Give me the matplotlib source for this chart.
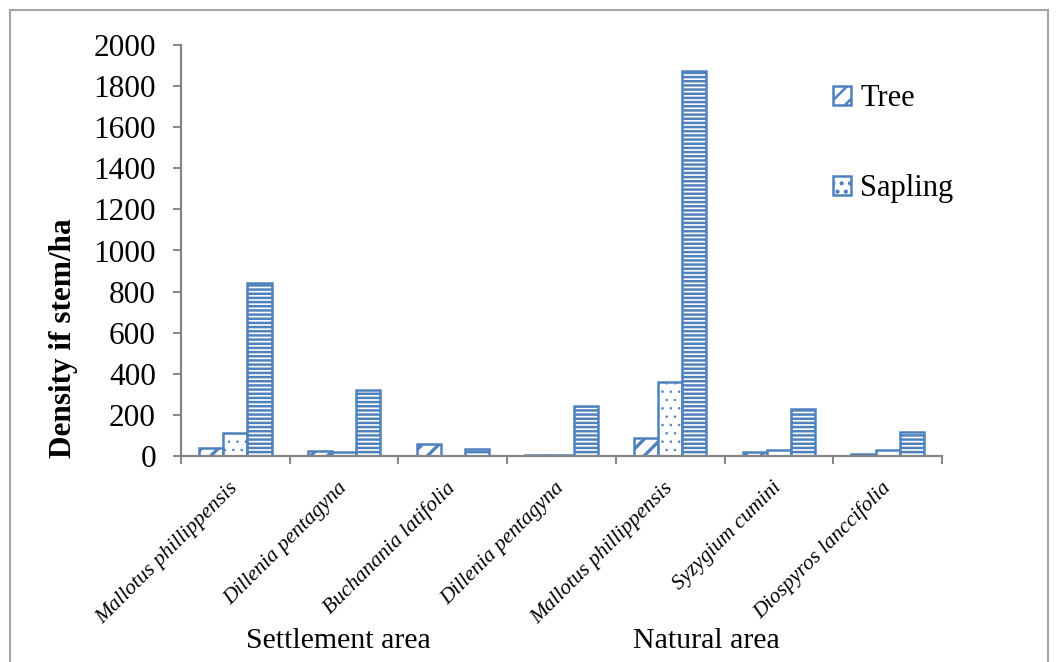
import matplotlib.pyplot as plt
from matplotlib.patches import Rectangle
import numpy as np

# data
species = [
    "Mallotus phillippensis",
    "Dillenia pentagyna",
    "Buchanania latifolia",
    "Dillenia pentagyna",
    "Mallotus phillippensis",
    "Syzygium cumini",
    "Diospyros lanccifolia",
]
tree = [40, 25, 60, 3, 90, 20, 10]
sapling = [110, 20, 0, 7, 360, 30, 30]
seedling = [840, 320, 35, 245, 1875, 230, 115]
areas = ["Settlement area", "Natural area"]

plt.rcParams["font.family"] = ["Liberation Serif", "DejaVu Serif"]

blue = "#4f81bd"
grey = "#868686"

W, H = 1058, 662
fig = plt.figure(figsize=(W / 100, H / 100), dpi=100)
ax = fig.add_axes([181 / W, 1 - 456 / H, (942 - 181) / W, (456 - 45) / H])

x = np.arange(len(species))
bw = 0.222

# hatch line width is picked up when each bar is made
plt.rcParams["hatch.linewidth"] = 2.4
b_tree = ax.bar(x - bw, tree, bw, facecolor="white", edgecolor=blue,
                hatch="//", linewidth=1.8, label="Tree")
plt.rcParams["hatch.linewidth"] = 0.6
b_sap = ax.bar(x, sapling, bw, facecolor="white", edgecolor=blue,
               hatch="..", linewidth=1.8, label="Sapling")
plt.rcParams["hatch.linewidth"] = 1.8
b_seed = ax.bar(x + bw, seedling, bw, facecolor="white", edgecolor=blue,
                hatch="----", linewidth=1.8, label="Seedling")

ax.set_xlim(-0.5, len(species) - 0.5)
ax.set_ylim(0, 2000)
ax.set_yticks(range(0, 2001, 200))
ax.tick_params(axis="y", labelsize=22.5, length=6, width=1.4, color=grey, pad=12)

ax.set_xticks(x)
ax.set_xticklabels(species, rotation=45, ha="right", va="center",
                   rotation_mode="anchor", fontstyle="italic", fontsize=15.5)
ax.tick_params(axis="x", which="major", length=0, pad=21)
ax.set_xticks(np.arange(-0.5, len(species)), minor=True)
ax.tick_params(axis="x", which="minor", length=6, width=1.4, color=grey)

for side in ["top", "right"]:
    ax.spines[side].set_visible(False)
for side in ["left", "bottom"]:
    ax.spines[side].set_color(grey)
    ax.spines[side].set_linewidth(1.6)

fig.text(63 / W, 1 - 338 / H, "Density if stem/ha", rotation=90,
         ha="center", va="center", fontsize=22.5, fontweight="bold")

fig.text(338 / W, 1 - 641 / H, areas[0], ha="center", va="center", fontsize=21.5)
fig.text(706 / W, 1 - 641 / H, areas[1], ha="center", va="center", fontsize=21.5)

leg = fig.legend(handles=[b_tree, b_sap], loc="upper left",
                 bbox_to_anchor=(833 / W, 1 - 84 / H), frameon=False,
                 fontsize=22, borderpad=0, borderaxespad=0,
                 handlelength=0.6, handleheight=0.6, handletextpad=0.3,
                 labelspacing=2.0)

fig.patches.append(Rectangle((10 / W, -0.02), (1048 - 10) / W, 1.02 - 10 / H,
                             transform=fig.transFigure, fill=False,
                             edgecolor="#a6a6a6", linewidth=1.5))

fig.savefig("out.png", dpi=100)
